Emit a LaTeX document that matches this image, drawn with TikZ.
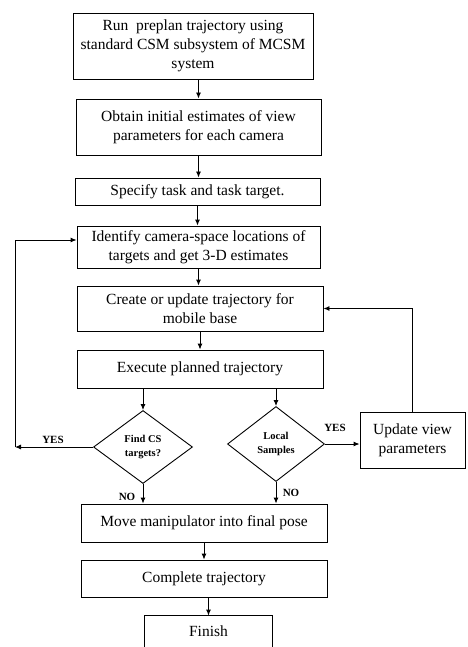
\documentclass[tikz,border=0pt]{standalone}
\usepackage{fontspec}
\setmainfont{Liberation Serif}
\usetikzlibrary{shapes.geometric,arrows.meta}
\begin{document}
\begin{tikzpicture}[x=1pt,y=-1pt,
  box/.style={draw, line width=0.9pt, align=center, inner sep=0pt, font=\fontsize{15.5}{19}\selectfont},
  dia/.style={draw, diamond, line width=0.9pt, align=center, inner sep=0pt, font=\bfseries\fontsize{10.5}{14}\selectfont},
  lab/.style={font=\bfseries\fontsize{11}{13}\selectfont, inner sep=0pt},
  arr/.style={line width=0.9pt, -{Latex[length=6pt,width=5pt]}},
  ln/.style={line width=0.9pt}]
\useasboundingbox (0,0) rectangle (467,647);
% boxes
\node[box, minimum width=240, minimum height=66] (b1) at (193,46) {Run\ \ preplan trajectory using\\standard CSM subsystem of MCSM\\system};
\node[box, minimum width=245, minimum height=56] (b2) at (198.5,127) {Obtain initial estimates of view\\parameters for each camera};
\node[box, minimum width=245, minimum height=27] (b3) at (197.5,191.5) {Specify task and task target.};
\node[box, minimum width=243, minimum height=42] (b4) at (198.5,247) {Identify camera-space locations of\\targets and get 3-D estimates};
\node[box, minimum width=246, minimum height=45] (b5) at (200,308.5) {Create or update trajectory for\\mobile base};
\node[box, minimum width=246, minimum height=38] (b6) at (200,369) {Execute planned trajectory};
\node[dia, minimum width=99, minimum height=73] (d1) at (143,447) {Find CS\\targets?};
\node[dia, minimum width=97, minimum height=75] (d2) at (276,444) {Local\\Samples};
\node[box, minimum width=105, minimum height=56] (up) at (412.5,440) {Update view\\parameters};
\node[box, minimum width=246, minimum height=38] (b7) at (204,523) {Move manipulator into final pose};
\node[box, minimum width=246, minimum height=37] (b8) at (204,578.5) {Complete trajectory};
\node[box, draw=none, minimum width=127, minimum height=31] (b9) at (208.5,631.5) {Finish};
\draw[ln] (b9.south west) -- (b9.north west) -- (b9.north east) -- (b9.south east);
% labels
\node[lab] (yesL) at (53,440) {YES};
\node[lab] (yesR) at (335,428) {YES};
\node[lab] (noL) at (127,497) {NO};
\node[lab] (noR) at (291,493) {NO};
% main flow
\draw[arr] (b1.south -| b2.north) -- (b2.north);
\draw[arr] (b2.south) -- (b2.south |- b3.north);
\draw[arr] (b3.south) -- (b3.south |- b4.north);
\draw[arr] (b4.south) -- (b4.south |- b5.north);
\draw[arr] (b5.south) -- (b6.north);
\draw[arr] (d1.north |- b6.south) -- (d1.north);
\draw[arr] (d2.north |- b6.south) -- (d2.north);
\draw[arr] (d1.south) -- (d1.south |- b7.north);
\draw[arr] (d2.south) -- (d2.south |- b7.north);
\draw[arr] (b7.south) -- (b8.north);
\draw[arr] (b8.south -| b9.north) -- (b9.north);
% YES loops
\coordinate (cL) at (15,447);
\coordinate (cT) at (15,240);
\draw[arr] (d1.west) -- (cL);
\draw[arr] (cL) -- (cT) -- (cT -| b4.west);
\draw[arr] (d2.east) -- (d2.east -| up.west);
\draw[arr] (up.north) |- (b5.east);
\end{tikzpicture}
\end{document}
